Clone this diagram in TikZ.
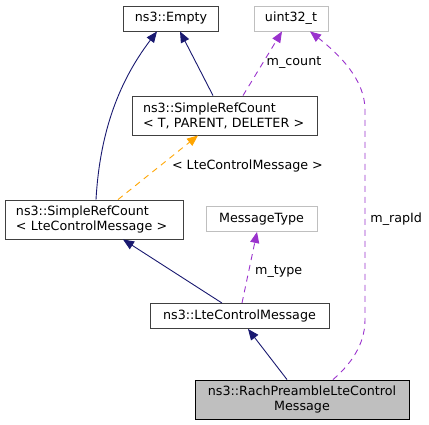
\documentclass[tikz,border=0pt]{standalone}
\usepackage{fontspec}
\setmainfont{DejaVu Sans}
\usetikzlibrary{arrows.meta,
                positioning}
\definecolor{edgeblue}{HTML}{191970}
\definecolor{edgepurple}{HTML}{9A32CD}
\definecolor{edgeorange}{HTML}{FFA500}
\definecolor{boxgray}{HTML}{BFBFBF}
\tikzstyle{cls} = [rectangle, draw=black!75, fill=white, line width=0.9pt, minimum height=25pt, inner xsep=11pt, inner ysep=0pt, text centered, font=\fontsize{12.7}{15}\selectfont]
\tikzstyle{ext} = [cls, draw=boxgray]
\tikzstyle{cls2} = [cls, minimum height=39pt, align=left]
\tikzstyle{arrow} = [line width=0.9pt, ->, >={Triangle[length=11pt,width=9pt]}]
\tikzstyle{inherit} = [arrow, edgeblue]
\tikzstyle{usage} = [arrow, edgepurple, dash pattern=on 6pt off 5pt]
\tikzstyle{tmpl} = [arrow, edgeorange, dash pattern=on 6pt off 5pt]
\tikzstyle{elabel} = [text=black, inner sep=0pt, font=\fontsize{12.7}{15}\selectfont]

\begin{document}
\begin{tikzpicture}[x=1pt, y=-1pt]
        \useasboundingbox (0,0) rectangle (429,425);
        	\node (empty) [cls, minimum width=94pt] at (171,18.5) {ns3::Empty};
			\node (uint) [ext, minimum width=74pt] at (291,18.5) {uint32\_t};
			\node (srctpd) [cls2, text width=163pt] at (224.5,115.5) {ns3::SimpleRefCount\\< T, PARENT, DELETER >};
			\node (srclcm) [cls2, text width=156pt] at (94,219.5) {ns3::SimpleRefCount\\< LteControlMessage >};
			\node (msgtype) [ext, minimum width=111pt] at (261.5,219) {MessageType};
			\node (lcm) [cls, minimum width=179pt] at (239.5,316) {ns3::LteControlMessage};
			\node (rach) [cls2, fill=boxgray, draw=black, text width=192pt, align=center] at (302,399.5) {ns3::RachPreambleLteControl\\Message};
			% 
			\draw [inherit] ([xshift=2pt]srclcm.north) .. controls (100,130) and (120,80) .. ([xshift=-14pt]empty.south);
			\draw [inherit] ([xshift=-11.5pt]srctpd.north) -- ([xshift=9pt]empty.south);
			\draw [usage] ([xshift=18.5pt]srctpd.north) -- node[elabel, pos=0.52, right=3pt] {m\_count} ([xshift=-9pt]uint.south);
			\draw [usage] ([xshift=31pt]rach.north) .. controls (350,365) and (365,345) .. (365,320) -- node[elabel, pos=0.48, right=5pt] {m\_rapId} (365,110) .. controls (365,80) and (340,55) .. ([xshift=19pt]uint.south);
			\draw [tmpl] ([xshift=24pt]srclcm.north) -- node[elabel, pos=0.52, right=12pt] {< LteControlMessage >} ([xshift=-26.5pt]srctpd.south);
			\draw [inherit] ([xshift=-17.5pt]lcm.north) -- ([xshift=29pt]srclcm.south);
			\draw [usage] ([xshift=2.5pt]lcm.north) -- node[elabel, pos=0.45, right=6pt] {m\_type} ([xshift=-4.5pt]msgtype.south);
			\draw [inherit] ([xshift=-15pt]rach.north) -- ([xshift=8.5pt]lcm.south);
\end{tikzpicture}
\end{document}
